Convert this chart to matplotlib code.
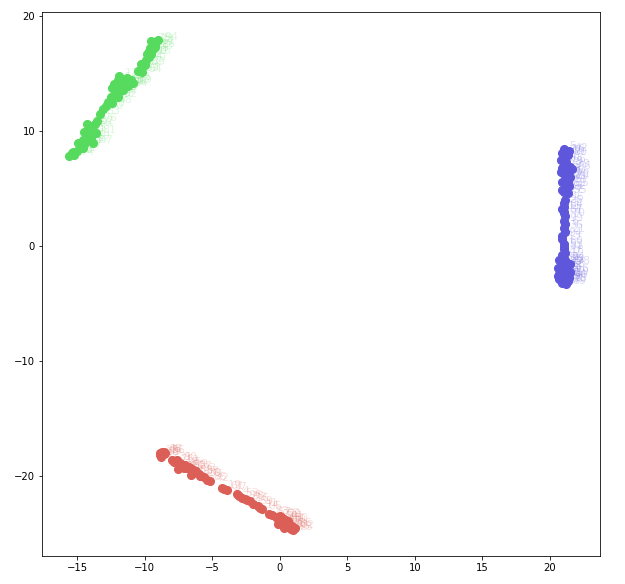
import matplotlib
matplotlib.use("Agg")
import matplotlib.pyplot as plt

red_x = [-8.9,-8.8,-8.7,-8.6,-8.8,-8.5,-8.9,-8.6,-8.0,-7.8,-7.6,-7.4,-7.2,-7.5,-7.0,-6.9,-6.7,-7.1,-6.5,-6.4,-6.2,-6.6,-6.0,-5.8,-5.6,-5.9,-5.4,-5.2,-4.3,-4.1,-3.9,-3.2,-3.0,-2.8,-2.6,-2.4,-2.2,-2.0,-1.6,-1.5,-1.3,-0.8,-0.6,-0.3,-0.1,0.0,0.1,0.2,0.3,0.4,0.5,0.6,0.7,0.8,0.9,1.0,1.1,0.3,0.6,-0.1,0.0,0.3]
red_y = [-18.0,-18.2,-17.9,-18.1,-18.3,-18.0,-18.2,-17.9,-18.6,-18.8,-18.6,-18.9,-19.0,-19.4,-19.0,-19.3,-19.2,-19.3,-19.4,-19.7,-19.6,-19.9,-19.8,-20.0,-20.1,-20.0,-20.3,-20.4,-21.0,-21.1,-21.2,-21.6,-21.7,-21.9,-22.0,-22.1,-22.2,-22.4,-22.6,-22.8,-22.9,-23.3,-23.4,-23.6,-23.7,-24.0,-23.6,-24.2,-23.9,-24.3,-24.0,-24.4,-24.2,-24.6,-24.3,-24.7,-24.5,-24.5,-23.9,-24.2,-23.5,-23.7]
green_x = [-15.6,-15.4,-15.2,-15.0,-15.3,-14.9,-14.6,-14.7,-14.4,-14.3,-14.6,-14.2,-14.0,-13.9,-14.1,-13.7,-13.5,-13.3,-13.1,-12.9,-12.7,-12.5,-12.4,-12.1,-11.8,-12.2,-12.3,-12.0,-11.7,-11.9,-11.5,-11.3,-11.6,-11.1,-11.4,-11.0,-12.0,-10.5,-10.3,-10.2,-10.0,-10.4,-9.7,-9.9,-9.5,-9.6,-9.4,-9.2,-9.5,-9.0,-9.3,-9.7,-14.5,-13.8,-14.3,-13.6,-12.0,-11.6,-11.2,-10.9,-12.4,-9.2,-10.1,-9.8]
green_y = [7.8,8.1,7.9,8.3,8.2,9.0,8.5,8.9,9.0,9.6,9.2,10.0,9.3,10.4,9.4,10.6,10.9,11.5,11.9,12.2,12.5,13.0,12.4,13.4,13.6,13.9,14.1,14.4,13.9,14.8,14.1,14.6,14.2,14.3,14.0,14.4,13.3,15.2,15.8,15.1,15.7,15.2,16.4,16.2,16.7,17.2,17.1,17.6,17.8,17.9,17.7,17.0,9.9,9.0,10.6,9.8,13.0,13.6,13.9,14.2,13.7,17.3,15.8,16.7]
blue_x = [21.0,21.2,21.4,21.1,20.9,21.3,21.5,20.9,21.1,21.6,21.0,21.3,21.2,21.5,20.9,21.1,21.4,21.2,21.0,21.3,21.1,21.0,20.9,21.1,21.0,21.0,21.1,20.9,21.0,21.0,20.9,21.1,21.0,21.0,20.9,21.1,20.9,21.2,20.8,21.4,20.7,21.0,21.3,20.6,21.5,20.7,21.1,20.9,21.2,20.6,21.4,20.9,21.1,21.3,21.0,20.8,21.2,20.8,21.4,20.9,21.3,21.0,21.1,20.9,21.0,21.1,21.0,20.7,21.5,21.0,21.0]
blue_y = [8.4,8.2,8.3,8.0,8.1,7.9,6.9,6.8,6.5,6.7,6.3,6.2,5.8,6.0,5.6,5.4,5.2,5.0,4.7,4.6,4.0,3.4,3.2,2.6,2.2,1.6,1.2,0.6,0.2,-0.3,-0.8,-1.2,-1.5,-1.4,-1.6,-1.8,-2.0,-2.0,-2.2,-2.4,-2.4,-2.6,-2.7,-2.6,-2.3,-2.9,-3.1,-3.2,-3.3,-1.9,-2.8,-3.0,-1.4,-3.0,-2.4,7.5,7.3,6.4,5.9,4.9,5.5,3.0,1.9,0.9,-0.1,-0.6,2.9,-1.2,-1.6,7.1,3.7]

red_labels = [str(n) for n in [23,89,45,7,12,56,98,34,31,76,90,12,45,67,3,88,19,64,27,52,93,78,38,10,71,26,85,42,19,61,37,4,52,96,28,73,16,59,41,14,95,83,67,22,34,8,79,47,58,71,10,33,1,46,86,25,82,19,30,55,62,91]]
green_labels = [str(n) for n in [9,38,74,21,53,6,87,30,62,91,44,15,19,68,5,42,76,83,30,26,97,59,48,11,77,30,36,64,95,13,10,21,48,83,66,43,22,57,87,54,39,99,2,70,26,18,33,61,75,94,28,35,60,47,12,81,92,8,24,69,50,16,72,40]]
blue_labels = [str(n) for n in [5,16,42,63,77,80,39,29,8,96,51,44,23,72,65,7,35,92,27,55,46,84,11,70,99,36,21,13,60,81,47,24,90,35,33,58,78,1,12,50,69,25,44,86,16,65,31,17,89,3,40,74,92,28,57,10,66,83,20,49,75,37,6,94,53,18,61,34,98,79,26]]

red = (0.86, 0.3712, 0.34)
green = (0.34, 0.86, 0.3712)
blue = (0.3712, 0.34, 0.86)

W, H = 625, 584
fig = plt.figure(figsize=(W / 72, H / 72), dpi=72, facecolor="white")
ax = fig.add_axes([42 / W, 1 - 556 / H, 558 / W, 544 / H])

for xs, ys, labels, c in [(red_x, red_y, red_labels, red),
                          (green_x, green_y, green_labels, green),
                          (blue_x, blue_y, blue_labels, blue)]:
    ax.scatter(xs, ys, s=65, color=c, zorder=3)
    for x, y, t in zip(xs, ys, labels):
        ax.annotate(t, (x, y), xytext=(6, 0), textcoords="offset points",
                    color=c, alpha=0.2, fontsize=11, zorder=2)

ax.set_xlim(-17.6, 23.7)
ax.set_ylim(-26.95, 20.35)
ax.set_xticks(range(-15, 21, 5))
ax.set_yticks(range(-20, 21, 10))
ax.tick_params(labelsize=10)
fig.savefig("out.png", dpi=72, facecolor="white")
